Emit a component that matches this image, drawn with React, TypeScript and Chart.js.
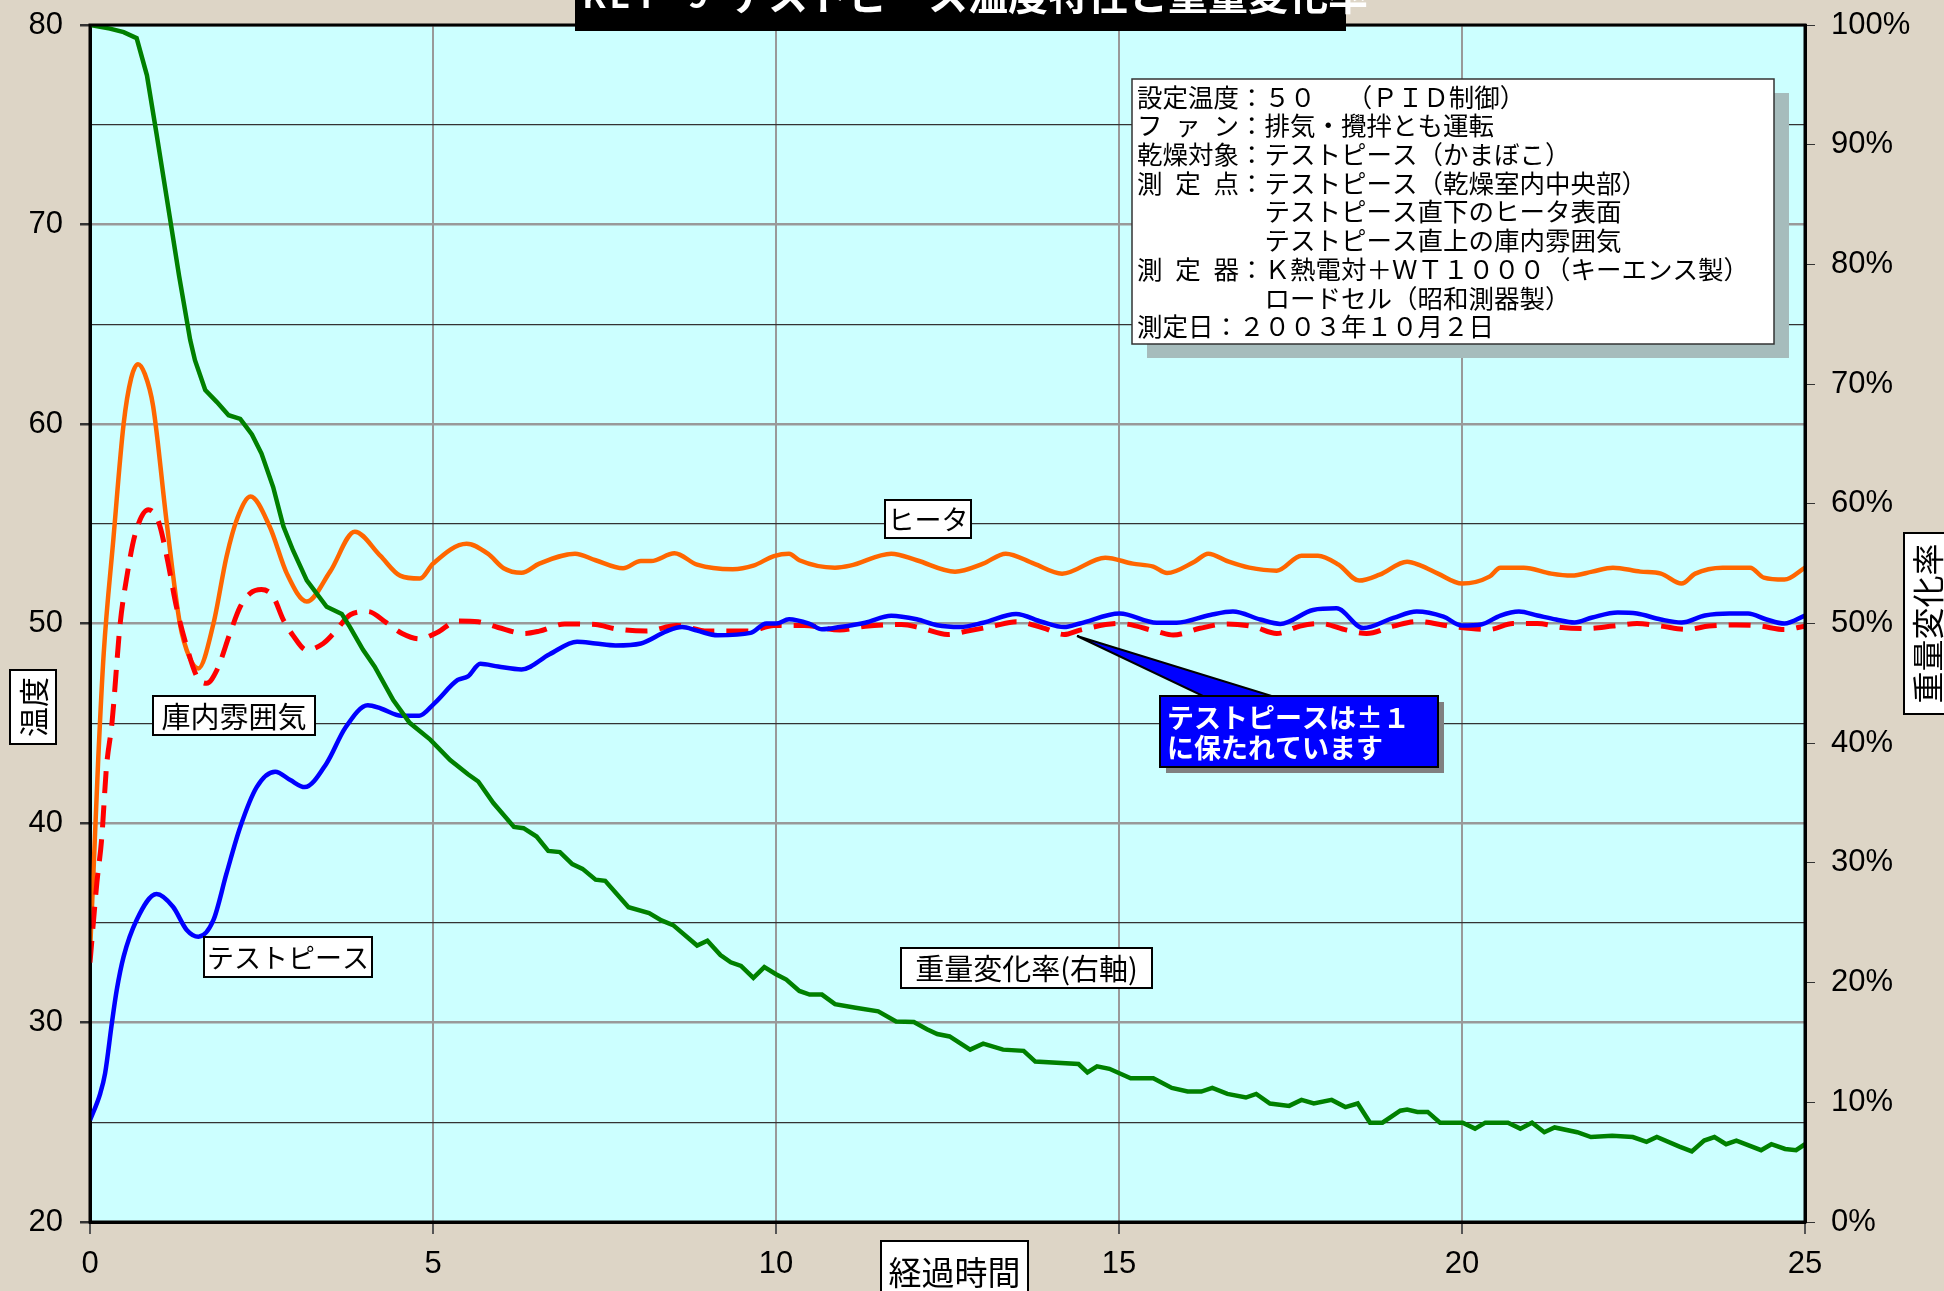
import { useEffect, useRef } from "react";
import { Chart, registerables } from "chart.js";

Chart.register(...registerables);

// ---- data ----
// ヒータ (heater surface), °C
const heaterTime = [
  0, 0.05, 0.12, 0.2, 0.34, 0.49, 0.6, 0.7, 0.8, 0.92, 1.12, 1.31, 1.45, 1.58, 1.8, 1.99, 2.15, 2.34, 2.62, 2.87,
  3.16, 3.5, 3.86, 4.23, 4.52, 4.81, 5.0, 5.49, 5.8, 6.03, 6.29, 6.55, 7.07, 7.37, 7.77, 8.03, 8.18, 8.52, 8.85,
  9.37, 9.67, 9.97, 10.19, 10.34, 10.86, 11.08, 11.68, 12.05, 12.61, 13.02, 13.35, 13.76, 14.17, 14.8, 15.2, 15.5,
  15.7, 16.1, 16.3, 16.6, 16.9, 17.3, 17.66, 17.9, 18.2, 18.5, 18.8, 19.2, 19.4, 19.65, 20.0, 20.4, 20.56, 20.9,
  21.3, 21.6, 21.9, 22.2, 22.6, 22.9, 23.2, 23.4, 23.8, 24.2, 24.4, 24.7, 25.0,
];
const heaterTemp = [
  33.5, 37.5, 43.2, 48.5, 54.2, 60.0, 62.3, 63.0, 62.5, 60.9, 55.0, 50.0, 48.3, 47.75, 50.0, 53.35, 55.3, 56.36,
  54.85, 52.5, 51.1, 52.6, 54.6, 53.4, 52.4, 52.25, 53.0, 54.0, 53.5, 52.77, 52.54, 53.0, 53.5, 53.17, 52.77, 53.13,
  53.13, 53.52, 52.95, 52.72, 52.9, 53.38, 53.5, 53.17, 52.8, 52.9, 53.5, 53.17, 52.6, 53.0, 53.5, 53.0, 52.5, 53.3,
  53.0, 52.85, 52.53, 53.1, 53.5, 53.1, 52.8, 52.65, 53.4, 53.4, 52.95, 52.15, 52.45, 53.1, 52.9, 52.5, 52.0, 52.35,
  52.8, 52.8, 52.5, 52.4, 52.6, 52.8, 52.6, 52.5, 52.0, 52.5, 52.8, 52.8, 52.3, 52.2, 52.8,
];

// 庫内雰囲気 (chamber air), °C
const airTime = [
  0, 0.1, 0.17, 0.24, 0.32, 0.44, 0.53, 0.66, 0.85, 1.0, 1.12, 1.26, 1.41, 1.56, 1.7, 1.85, 2.04, 2.19, 2.33, 2.5,
  2.67, 2.82, 2.96, 3.16, 3.4, 3.55, 3.8, 4.05, 4.32, 4.55, 4.8, 5.06, 5.36, 5.66, 5.95, 6.33, 6.55, 6.92, 7.37,
  7.66, 8.11, 8.55, 9.0, 9.6, 9.97, 10.41, 10.93, 11.3, 11.83, 12.12, 12.5, 12.79, 13.16, 13.5, 13.9, 14.2, 14.43,
  15.01, 15.55, 15.79, 16.18, 16.57, 16.96, 17.3, 17.64, 17.93, 18.32, 18.61, 19.0, 19.34, 19.87, 20.4, 20.74, 21.1,
  21.46, 21.8, 22.2, 22.55, 22.9, 23.27, 23.6, 24.0, 24.35, 24.7, 25.0,
];
const airTemp = [
  33.0, 37.0, 39.2, 42.8, 45.0, 50.0, 52.2, 54.5, 55.7, 55.1, 53.35, 50.84, 48.84, 47.33, 47.0, 47.67, 49.5, 50.84,
  51.5, 51.7, 51.35, 50.17, 49.4, 48.67, 49.0, 49.5, 50.45, 50.6, 50.04, 49.5, 49.23, 49.55, 50.13, 50.09, 49.8,
  49.5, 49.62, 49.98, 49.95, 49.73, 49.62, 49.9, 49.62, 49.62, 49.9, 49.9, 49.68, 49.86, 49.95, 49.77, 49.45, 49.62,
  49.86, 50.09, 49.77, 49.45, 49.67, 50.0, 49.6, 49.42, 49.76, 49.98, 49.84, 49.5, 49.87, 50.0, 49.67, 49.5, 49.87,
  50.1, 49.84, 49.7, 50.0, 50.0, 49.8, 49.75, 49.87, 50.0, 49.87, 49.7, 49.87, 49.93, 49.87, 49.7, 49.87,
];

// テストピース (test piece), °C
const pieceTime = [
  0, 0.15, 0.22, 0.32, 0.39, 0.49, 0.68, 0.97, 1.21, 1.41, 1.58, 1.8, 1.99, 2.19, 2.43, 2.7, 2.92, 3.13, 3.45, 3.72,
  4.05, 4.24, 4.54, 4.8, 5.02, 5.36, 5.51, 5.69, 5.95, 6.29, 6.7, 7.1, 7.37, 7.66, 8.03, 8.41, 8.63, 8.85, 9.15,
  9.63, 9.86, 10.0, 10.19, 10.49, 10.67, 10.93, 11.3, 11.68, 12.05, 12.35, 12.68, 13.02, 13.5, 13.87, 14.2, 14.43,
  15.01, 15.55, 15.84, 16.33, 16.66, 17.06, 17.35, 17.83, 18.17, 18.56, 19.0, 19.34, 19.73, 20.0, 20.28, 20.56,
  20.83, 21.1, 21.37, 21.64, 21.9, 22.27, 22.55, 22.9, 23.2, 23.54, 23.9, 24.17, 24.44, 24.7, 25.0,
];
const pieceTemp = [
  25.1, 26.45, 27.45, 30.0, 31.63, 33.3, 35.14, 36.44, 35.8, 34.64, 34.3, 35.14, 37.47, 39.8, 41.8, 42.57, 42.15,
  41.8, 43.0, 44.76, 45.9, 45.74, 45.38, 45.38, 46.0, 47.17, 47.35, 47.98, 47.84, 47.7, 48.46, 49.09, 49.0, 48.9,
  49.0, 49.62, 49.82, 49.64, 49.41, 49.53, 50.0, 50.0, 50.21, 49.98, 49.71, 49.82, 50.04, 50.39, 50.21, 49.91, 49.82,
  50.04, 50.48, 50.09, 49.82, 50.0, 50.5, 50.04, 50.04, 50.43, 50.6, 50.2, 49.98, 50.68, 50.76, 49.77, 50.28, 50.6,
  50.34, 49.9, 49.95, 50.4, 50.6, 50.4, 50.2, 50.05, 50.3, 50.55, 50.5, 50.2, 50.05, 50.4, 50.5, 50.5, 50.2, 50.0,
  50.4,
];

// 重量変化率 (weight ratio, right axis), %
const weightTime = [
  0, 0.29, 0.49, 0.68, 0.83, 0.97, 1.17, 1.3, 1.46, 1.53, 1.68, 1.85, 2.02, 2.19, 2.36, 2.5, 2.67, 2.82, 2.96, 3.16,
  3.45, 3.67, 3.79, 3.98, 4.15, 4.42, 4.66, 4.96, 5.25, 5.51, 5.66, 5.88, 6.18, 6.32, 6.51, 6.68, 6.85, 7.03, 7.18,
  7.37, 7.51, 7.85, 8.15, 8.33, 8.5, 8.85, 9.0, 9.19, 9.34, 9.49, 9.67, 9.83, 10.0, 10.15, 10.34, 10.49, 10.67,
  10.86, 11.16, 11.49, 11.75, 12.01, 12.2, 12.35, 12.53, 12.83, 13.02, 13.31, 13.61, 13.78, 14.41, 14.54, 14.68,
  14.86, 15.17, 15.5, 15.77, 16.0, 16.2, 16.36, 16.58, 16.85, 17.0, 17.2, 17.48, 17.66, 17.84, 18.1, 18.3, 18.48,
  18.66, 18.84, 19.1, 19.2, 19.35, 19.5, 19.68, 20.01, 20.19, 20.34, 20.67, 20.85, 21.02, 21.2, 21.35, 21.68, 21.88,
  22.19, 22.49, 22.69, 22.84, 23.17, 23.35, 23.53, 23.68, 23.85, 24.0, 24.36, 24.51, 24.71, 24.87, 25.0,
];
const weightPct = [
  100, 99.7, 99.4, 98.9, 95.8, 90.9, 83.7, 79.0, 73.7, 72.0, 69.5, 68.5, 67.4, 67.1, 65.8, 64.2, 61.4, 58.1, 56.1,
  53.6, 51.4, 50.8, 49.7, 47.8, 46.4, 43.6, 41.7, 40.3, 38.6, 37.4, 36.8, 35.0, 33.0, 32.9, 32.2, 31.0, 30.9, 29.9,
  29.5, 28.6, 28.5, 26.3, 25.8, 25.2, 24.8, 23.1, 23.5, 22.3, 21.7, 21.4, 20.4, 21.3, 20.7, 20.25, 19.3, 19.0, 19.0,
  18.2, 17.9, 17.6, 16.75, 16.7, 16.1, 15.7, 15.5, 14.4, 14.9, 14.4, 14.3, 13.4, 13.2, 12.5, 13.0, 12.8, 12.0, 12.0,
  11.2, 10.9, 10.9, 11.2, 10.7, 10.4, 10.7, 9.9, 9.7, 10.2, 9.9, 10.2, 9.6, 9.9, 8.3, 8.3, 9.3, 9.4, 9.2, 9.2, 8.3,
  8.3, 7.8, 8.3, 8.3, 7.8, 8.3, 7.5, 7.9, 7.5, 7.1, 7.2, 7.1, 6.7, 7.1, 6.3, 5.9, 6.8, 7.1, 6.5, 6.8, 6.0, 6.5, 6.1,
  6.0, 6.5,
];

const titleCode = ["K", "E", "I", "-", "9"];
const titleText = "テストピース温度特性と重量変化率";
const infoLines = [
  ["設定温度", "５０　 （ＰＩＤ制御）"],
  ["ファン", "排気・攪拌とも運転"],
  ["乾燥対象", "テストピース（かまぼこ）"],
  ["測定点", "テストピース（乾燥室内中央部）"],
  ["", "テストピース直下のヒータ表面"],
  ["", "テストピース直上の庫内雰囲気"],
  ["測定器", "Ｋ熱電対＋ＷＴ１０００（キーエンス製）"],
  ["", "ロードセル（昭和測器製）"],
];
const infoDate = "測定日：２００３年１０月２日";

const CJK = '"Noto Sans CJK JP", "Noto Sans", sans-serif';
const NUM = '"Liberation Sans", Arial, sans-serif';

const pts = (xs: number[], ys: number[]) => xs.map((x, i) => ({ x, y: ys[i] }));

function labelBox(ctx: CanvasRenderingContext2D, text: string, x: number, y: number, w: number, h: number, size: number, rotate = false) {
  ctx.save();
  ctx.fillStyle = "#fff";
  ctx.fillRect(x, y, w, h);
  ctx.strokeStyle = "#000";
  ctx.lineWidth = 2;
  ctx.strokeRect(x, y, w, h);
  ctx.fillStyle = "#000";
  ctx.font = `${size}px ${CJK}`;
  ctx.textAlign = "center";
  ctx.textBaseline = "middle";
  ctx.translate(x + w / 2, y + h / 2);
  if (rotate) ctx.rotate(-Math.PI / 2);
  ctx.fillText(text, 0, 1);
  ctx.restore();
}

const decor = {
  id: "decor",
  beforeDraw(chart: any) {
    const { ctx, chartArea: a } = chart;
    ctx.save();
    ctx.fillStyle = "#ddd5c6";
    ctx.fillRect(0, 0, chart.width, chart.height);
    ctx.fillStyle = "#ccffff";
    ctx.fillRect(a.left, a.top, a.right - a.left, a.bottom - a.top);
    ctx.restore();
  },
  afterDraw(chart: any) {
    const { ctx, chartArea: a } = chart;
    ctx.save();
    // plot frame
    ctx.strokeStyle = "#000";
    ctx.lineWidth = 3;
    ctx.strokeRect(a.left, a.top, a.right - a.left, a.bottom - a.top);

    // title (cut off at the top edge)
    ctx.fillStyle = "#000";
    ctx.fillRect(575, -10, 771, 41);
    ctx.fillStyle = "#fff";
    ctx.textBaseline = "middle";
    ctx.textAlign = "center";
    ctx.font = `bold 34px ${CJK}`;
    titleCode.forEach((c, i) => ctx.fillText(c, 594 + i * 26, -5));
    ctx.textAlign = "left";
    ctx.font = `bold 40px ${CJK}`;
    ctx.fillText(titleText, 728, -5);

    // axis titles
    labelBox(ctx, "温度", 10, 670, 46, 74, 30, true);
    labelBox(ctx, "重量変化率", 1904, 533, 46, 181, 32, true);
    labelBox(ctx, "経過時間", 881, 1241, 147, 60, 33);

    // series labels
    labelBox(ctx, "ヒータ", 885, 500, 86, 38, 27);
    labelBox(ctx, "庫内雰囲気", 153, 696, 162, 39, 29);
    labelBox(ctx, "テストピース", 204, 937, 168, 40, 27);
    labelBox(ctx, "重量変化率(右軸)", 901, 948, 251, 40, 29);

    // info box
    ctx.fillStyle = "#a6bcbc";
    ctx.fillRect(1147, 93, 642, 265);
    ctx.fillStyle = "#fff";
    ctx.fillRect(1132, 79, 642, 265);
    ctx.strokeStyle = "#333";
    ctx.lineWidth = 1.5;
    ctx.strokeRect(1132, 79, 642, 265);
    const fs = 25.5;
    ctx.fillStyle = "#000";
    ctx.font = `${fs}px ${CJK}`;
    ctx.textAlign = "left";
    ctx.textBaseline = "middle";
    infoLines.forEach(([lab, txt], i) => {
      const y = 97 + i * 28.7;
      if (lab) {
        const chars = Array.from(lab);
        const span = 4 * fs - fs;
        chars.forEach((c, j) => {
          const x = chars.length === 1 ? 1137 : 1137 + (j * span) / (chars.length - 1);
          ctx.fillText(c, x, y);
        });
        ctx.fillText("：", 1137 + 4 * fs, y);
      }
      ctx.fillText(txt, 1137 + 5 * fs, y);
    });
    ctx.fillText(infoDate, 1137, 97 + 8 * 28.7);

    // callout
    ctx.fillStyle = "#808080";
    ctx.fillRect(1166, 702, 278, 71);
    ctx.beginPath();
    ctx.moveTo(1077, 636);
    ctx.lineTo(1205, 697);
    ctx.lineTo(1275, 697);
    ctx.closePath();
    ctx.fillStyle = "#0000ff";
    ctx.fill();
    ctx.strokeStyle = "#000";
    ctx.lineWidth = 2;
    ctx.stroke();
    ctx.fillStyle = "#0000ff";
    ctx.fillRect(1160, 696, 278, 71);
    ctx.strokeRect(1160, 696, 278, 71);
    ctx.fillStyle = "#fff";
    ctx.font = `bold 27px ${CJK}`;
    ctx.fillText("テストピースは±１", 1167, 718);
    ctx.fillText("に保たれています", 1167, 748);
    ctx.restore();
  },
};

export default function App() {
  const canvasRef = useRef<HTMLCanvasElement>(null);

  useEffect(() => {
    document.body.style.margin = "0";
    document.body.style.overflow = "hidden";
    const canvas = canvasRef.current;
    if (!canvas) return;
    const tickFont = { family: NUM, size: 31 };
    const chart = new Chart(canvas, {
      type: "line",
      data: {
        datasets: [
          {
            label: "重量変化率",
            data: pts(weightTime, weightPct),
            yAxisID: "y2",
            borderColor: "#008000",
            borderWidth: 4.5,
            tension: 0,
            order: 0,
          },
          {
            label: "テストピース",
            data: pts(pieceTime, pieceTemp),
            yAxisID: "y",
            borderColor: "#0000ff",
            borderWidth: 4.5,
            cubicInterpolationMode: "monotone",
            order: 1,
          },
          {
            label: "庫内雰囲気",
            data: pts(airTime, airTemp),
            yAxisID: "y",
            borderColor: "#ff0000",
            borderWidth: 5,
            borderDash: [22, 12],
            cubicInterpolationMode: "monotone",
            order: 2,
          },
          {
            label: "ヒータ",
            data: pts(heaterTime, heaterTemp),
            yAxisID: "y",
            borderColor: "#ff6600",
            borderWidth: 4.5,
            cubicInterpolationMode: "monotone",
            order: 3,
          },
        ],
      },
      options: {
        animation: false,
        responsive: false,
        devicePixelRatio: 1,
        layout: { padding: { top: 25, left: 0, right: 0, bottom: 0 } },
        elements: { point: { radius: 0 } },
        plugins: { legend: { display: false }, tooltip: { enabled: false }, title: { display: false } },
        scales: {
          x: {
            type: "linear",
            min: 0,
            max: 25,
            ticks: { stepSize: 5, font: tickFont, color: "#000", padding: 12, maxRotation: 0 },
            grid: { color: "#999", lineWidth: 2, tickLength: 12, tickColor: "#555" },
            border: { color: "#000", width: 3 },
            afterFit: (s: any) => {
              s.height = 69;
            },
          },
          y: {
            position: "left",
            min: 20,
            max: 80,
            ticks: {
              stepSize: 5,
              font: tickFont,
              color: "#000",
              padding: 17,
              callback: (v: any) => (Number(v) % 10 === 0 ? String(v) : ""),
            },
            grid: {
              color: (c: any) => (c.tick && c.tick.value % 10 === 0 ? "#999" : "#333"),
              lineWidth: (c: any) => (c.tick && c.tick.value % 10 === 0 ? 2.5 : 1.2),
              tickLength: 10,
              tickColor: (c: any) => (c.tick && c.tick.value % 10 === 0 ? "#333" : "rgba(0,0,0,0)"),
            },
            border: { color: "#000", width: 3 },
            afterFit: (s: any) => {
              s.width = 90;
              s.paddingTop = 0;
              s.paddingBottom = 0;
            },
          },
          y2: {
            position: "right",
            min: 0,
            max: 100,
            ticks: { stepSize: 10, font: tickFont, color: "#000", padding: 16, callback: (v: any) => v + "%" },
            grid: { drawOnChartArea: false, tickLength: 10, tickColor: "#333" },
            border: { color: "#000", width: 3 },
            afterFit: (s: any) => {
              s.width = 139;
              s.paddingTop = 0;
              s.paddingBottom = 0;
            },
          },
        },
      },
      plugins: [decor],
    } as any);
    return () => chart.destroy();
  }, []);

  return (
    <div style={{ width: 1944, height: 1291 }}>
      <canvas ref={canvasRef} width={1944} height={1291} style={{ display: "block", width: 1944, height: 1291 }} />
    </div>
  );
}
